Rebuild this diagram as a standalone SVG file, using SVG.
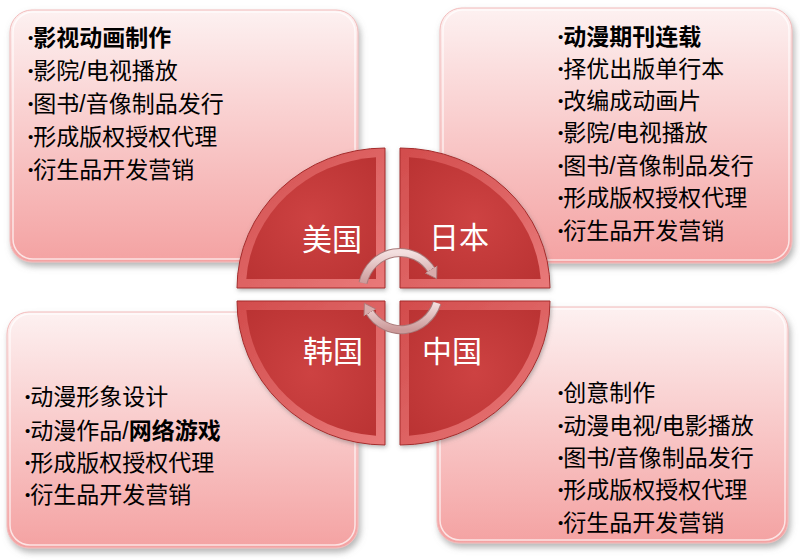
<svg xmlns="http://www.w3.org/2000/svg" width="800" height="560" viewBox="0 0 800 560">
  <defs>
    <linearGradient id="boxGrad" x1="0" y1="0" x2="0" y2="1">
      <stop offset="0" stop-color="#fdf1f1"/>
      <stop offset="0.45" stop-color="#f9cdcd"/>
      <stop offset="1" stop-color="#f4a2a2"/>
    </linearGradient>
    <linearGradient id="bevelGrad" x1="0" y1="0" x2="1" y2="1">
      <stop offset="0" stop-color="#d24c4c"/>
      <stop offset="1" stop-color="#e97a7a"/>
    </linearGradient>
    <radialGradient id="faceGrad" cx="0.5" cy="0.5" r="0.7">
      <stop offset="0" stop-color="#cd4242"/>
      <stop offset="1" stop-color="#ba3333"/>
    </radialGradient>
    <linearGradient id="arrowGrad" x1="0" y1="0" x2="0" y2="1">
      <stop offset="0" stop-color="#f3dfdf"/>
      <stop offset="1" stop-color="#cc9a9a"/>
    </linearGradient>
    <filter id="shadow" x="-10%" y="-10%" width="125%" height="125%">
      <feDropShadow dx="2" dy="4" stdDeviation="3" flood-color="#7a7a7a" flood-opacity="0.55"/>
    </filter>
    <filter id="segShadow" x="-10%" y="-10%" width="125%" height="125%">
      <feDropShadow dx="1" dy="2" stdDeviation="2" flood-color="#6d6d6d" flood-opacity="0.5"/>
    </filter>
    <marker id="head" viewBox="0 -8 12 16" markerWidth="12" markerHeight="16" refX="2" refY="0" orient="auto" markerUnits="userSpaceOnUse">
      <path d="M0,-7 L11,0 L0,7 Z" fill="#d8abab" stroke="#a97a7a" stroke-width="0.8"/>
    </marker>
  </defs>
  <style>
    .box { fill: url(#boxGrad); stroke: #f2bcbc; stroke-width: 1; filter: url(#shadow); }
    .gloss { fill: none; stroke: #ffffff; stroke-opacity: 0.7; stroke-width: 1.5; }
    .bevel { fill: url(#bevelGrad); stroke: #a52b2b; stroke-width: 1; filter: url(#segShadow); }
    .face { fill: url(#faceGrad); }
    .t { font-family: "Liberation Sans", "Noto Sans CJK SC", sans-serif; font-size: 23px; fill: #000000; }
    .bu { font-size: 15px; }
    .b { font-weight: bold; }
    .lbl { font-family: "Noto Sans CJK SC", sans-serif; font-size: 30px; fill: #ffffff; text-anchor: middle; }
    .arc-under { fill: none; stroke: #a97a7a; stroke-width: 9; }
    .arc { fill: none; stroke: url(#arrowGrad); stroke-width: 7; }
  </style>

  <rect width="800" height="560" fill="#ffffff"/>

  <g id="box-us">
    <rect class="box" x="10" y="10" width="348" height="252" rx="22"/>
    <rect class="gloss" x="13" y="12" width="342" height="247" rx="20"/>
    <text class="t" x="28" y="46"><tspan class="bu" dy="-3">•</tspan><tspan class="b" dy="3">影视动画制作</tspan></text>
    <text class="t" x="28" y="79"><tspan class="bu" dy="-3">•</tspan><tspan dy="3">影院/电视播放</tspan></text>
    <text class="t" x="28" y="112"><tspan class="bu" dy="-3">•</tspan><tspan dy="3">图书/音像制品发行</tspan></text>
    <text class="t" x="28" y="145"><tspan class="bu" dy="-3">•</tspan><tspan dy="3">形成版权授权代理</tspan></text>
    <text class="t" x="28" y="178"><tspan class="bu" dy="-3">•</tspan><tspan dy="3">衍生品开发营销</tspan></text>
  </g>

  <g id="box-jp">
    <rect class="box" x="440" y="8" width="352" height="255" rx="22"/>
    <rect class="gloss" x="443" y="10" width="346" height="250" rx="20"/>
    <text class="t" x="558" y="45"><tspan class="bu" dy="-3">•</tspan><tspan class="b" dy="3">动漫期刊连载</tspan></text>
    <text class="t" x="558" y="77"><tspan class="bu" dy="-3">•</tspan><tspan dy="3">择优出版单行本</tspan></text>
    <text class="t" x="558" y="109"><tspan class="bu" dy="-3">•</tspan><tspan dy="3">改编成动画片</tspan></text>
    <text class="t" x="558" y="141"><tspan class="bu" dy="-3">•</tspan><tspan dy="3">影院/电视播放</tspan></text>
    <text class="t" x="558" y="174"><tspan class="bu" dy="-3">•</tspan><tspan dy="3">图书/音像制品发行</tspan></text>
    <text class="t" x="558" y="206"><tspan class="bu" dy="-3">•</tspan><tspan dy="3">形成版权授权代理</tspan></text>
    <text class="t" x="558" y="239"><tspan class="bu" dy="-3">•</tspan><tspan dy="3">衍生品开发营销</tspan></text>
  </g>

  <g id="box-kr">
    <rect class="box" x="7" y="312" width="351" height="236" rx="22"/>
    <rect class="gloss" x="10" y="314" width="345" height="231" rx="20"/>
    <text class="t" x="25" y="405"><tspan class="bu" dy="-3">•</tspan><tspan dy="3">动漫形象设计</tspan></text>
    <text class="t" x="25" y="439"><tspan class="bu" dy="-3">•</tspan><tspan dy="3">动漫作品/</tspan><tspan class="b">网络游戏</tspan></text>
    <text class="t" x="25" y="471"><tspan class="bu" dy="-3">•</tspan><tspan dy="3">形成版权授权代理</tspan></text>
    <text class="t" x="25" y="503"><tspan class="bu" dy="-3">•</tspan><tspan dy="3">衍生品开发营销</tspan></text>
  </g>

  <g id="box-cn">
    <rect class="box" x="437" y="307" width="351" height="236" rx="22"/>
    <rect class="gloss" x="440" y="309" width="345" height="231" rx="20"/>
    <text class="t" x="558" y="401"><tspan class="bu" dy="-3">•</tspan><tspan dy="3">创意制作</tspan></text>
    <text class="t" x="558" y="434"><tspan class="bu" dy="-3">•</tspan><tspan dy="3">动漫电视/电影播放</tspan></text>
    <text class="t" x="558" y="466"><tspan class="bu" dy="-3">•</tspan><tspan dy="3">图书/音像制品发行</tspan></text>
    <text class="t" x="558" y="498"><tspan class="bu" dy="-3">•</tspan><tspan dy="3">形成版权授权代理</tspan></text>
    <text class="t" x="558" y="531"><tspan class="bu" dy="-3">•</tspan><tspan dy="3">衍生品开发营销</tspan></text>
  </g>

  <g id="seg-us">
    <path class="bevel" d="M385,288 L237,288 A148,140 0 0 1 385,148 Z"/>
    <path class="face" d="M376,279 L246.3,279 A139,131 0 0 1 376,157.3 Z"/>
    <text class="lbl" x="332" y="250">美国</text>
  </g>
  <g id="seg-jp">
    <path class="bevel" d="M400,288 L400,148 A150,140 0 0 1 550,288 Z"/>
    <path class="face" d="M409,279 L409,157.3 A141,131 0 0 1 540.7,279 Z"/>
    <text class="lbl" x="459" y="248">日本</text>
  </g>
  <g id="seg-kr">
    <path class="bevel" d="M385,301 L385,445 A148,144 0 0 1 237,301 Z"/>
    <path class="face" d="M376,310 L376,435.7 A139,135 0 0 1 246.3,310 Z"/>
    <text class="lbl" x="333" y="362">韩国</text>
  </g>
  <g id="seg-cn">
    <path class="bevel" d="M400,301 L550,301 A150,144 0 0 1 400,445 Z"/>
    <path class="face" d="M409,310 L540.7,310 A141,135 0 0 1 409,435.7 Z"/>
    <text class="lbl" x="452" y="362">中国</text>
  </g>

  <g id="connectors">
    <path class="arc-under" d="M363,283 A38,40 0 0 1 432,271"/>
    <path class="arc" d="M363,283 A38,40 0 0 1 432,271" marker-end="url(#head)"/>
    <path class="arc-under" d="M437,303 A38,40 0 0 1 369,311"/>
    <path class="arc" d="M437,303 A38,40 0 0 1 369,311" marker-end="url(#head)"/>
  </g>
</svg>
